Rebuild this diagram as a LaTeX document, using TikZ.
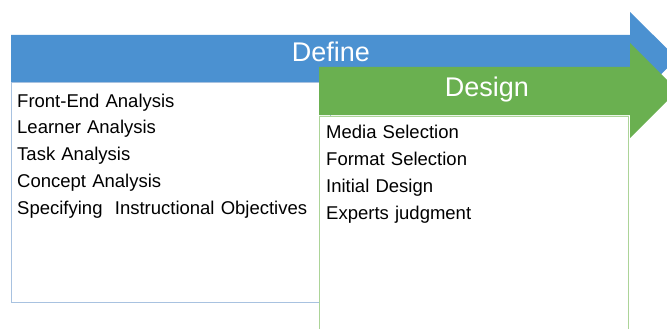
\documentclass[tikz,border=0pt]{standalone}
\usepackage{fontspec}
\setmainfont{Liberation Sans}
\usetikzlibrary{positioning}

\definecolor{defineBlue}{RGB}{75,145,209}
\definecolor{designGreen}{RGB}{106,176,80}
\definecolor{defineLine}{RGB}{168,194,224}
\definecolor{designLine}{RGB}{172,212,152}

\newcommand{\itemfont}{\fontsize{18.5}{22}\selectfont}
\newcommand{\headfont}{\fontsize{27}{30}\selectfont}

\tikzstyle{headText} = [anchor=base, inner sep=0pt, text=white, font=\headfont]
\tikzstyle{listItem} = [anchor=west, text width=300pt, align=left, inner sep=0pt, text height=13pt, text depth=4pt, font=\itemfont]
\tikzstyle{defineBox} = [draw=defineLine, fill=white, line width=1pt]
\tikzstyle{designBox} = [draw=designLine, fill=white, line width=1pt]

\begin{document}
\begin{tikzpicture}[x=1pt, y=-1pt, node distance=26.8pt]
    \useasboundingbox (0,0) rectangle (667,329);
    \clip (0,0) rectangle (667,329);

    % define phase
    \fill [defineBlue] (11,35) -- (630,35) -- (630,12) -- (677,58.5) -- (630,105) -- (630,82) -- (11,82) -- cycle;
    \draw [defineBox] (11,83) rectangle (330,302);
    \node (define)[headText] at (331,61.7) {Define};

    \node (frontEnd)[listItem] at (17,102.5) {Front-End Analysis};
    \node (learner)[listItem, below of=frontEnd] {Learner Analysis};
    \node (task)[listItem, below of=learner] {Task Analysis};
    \node (concept)[listItem, below of=task] {Concept Analysis};
    \node (objectives)[listItem, below of=concept] {Specifying\ \ Instructional Objectives};

    % design phase
    \fill [designGreen] (319,67) -- (630,67) -- (630,43) -- (677.5,90.5) -- (630,138) -- (630,115) -- (319,115) -- cycle;
    \draw [designBox] (319,116) rectangle (628,340);
    \node (design)[headText] at (487,96) {Design};

    \node (media)[listItem] at (326,134.5) {Media Selection};
    \node (format)[listItem, below of=media] {Format Selection};
    \node (initial)[listItem, below of=format] {Initial Design};
    \node (experts)[listItem, below of=initial] {Experts judgment};
\end{tikzpicture}
\end{document}
